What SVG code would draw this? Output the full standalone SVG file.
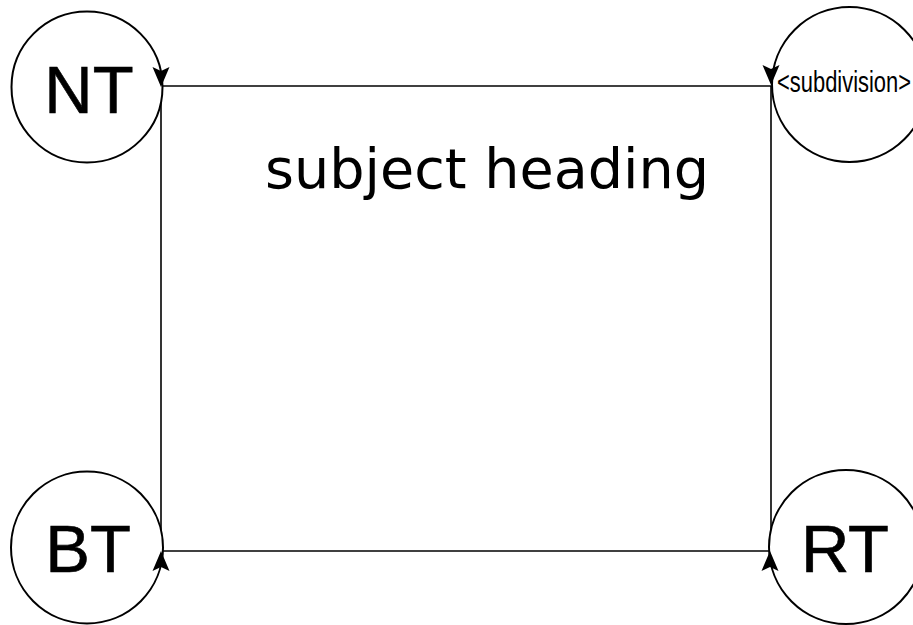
<svg xmlns="http://www.w3.org/2000/svg" xmlns:xlink="http://www.w3.org/1999/xlink" width="913" height="625" viewBox="0 0 913 625">
  <style>
    .node circle { fill: #ffffff; stroke: #000000; stroke-width: 2; }
    .lbl { font-family: "Liberation Sans", Arial, sans-serif; font-size: 67px; fill: #000000; stroke: #000000; stroke-width: 0.6; text-anchor: middle; }
    .conn line { stroke: #000000; stroke-width: 1.6; fill: none; }
    .heading { font-family: "DejaVu Sans", Verdana, sans-serif; font-size: 55px; fill: #000000; }
    .sub { font-family: "Liberation Sans Narrow", "Liberation Sans", Arial, sans-serif; font-size: 29px; fill: #000000; }
  </style>
  <defs>
    <path id="arrow" d="M0,0 L-8.5,-20 L0,-16 L8.5,-20 Z" fill="#000000"/>
  </defs>
  <rect x="0" y="0" width="913" height="625" fill="#ffffff"/>
  <g id="connectors" class="conn">
    <line x1="161" y1="86" x2="771" y2="86"/>
    <line x1="161" y1="86" x2="161" y2="551"/>
    <line x1="161" y1="551" x2="770" y2="551"/>
    <line x1="771" y1="86" x2="771" y2="551"/>
  </g>
  <g id="node-nt" class="node">
    <circle cx="87" cy="87" r="75.5"/>
    <text class="lbl" x="89" y="113">NT</text>
  </g>
  <g id="node-subdivision" class="node">
    <circle cx="849.5" cy="84.5" r="77.5"/>
    <text class="sub" x="777" y="92" textLength="134" lengthAdjust="spacingAndGlyphs">&lt;subdivision&gt;</text>
  </g>
  <g id="node-bt" class="node">
    <circle cx="87" cy="547.5" r="76"/>
    <text class="lbl" x="88" y="572">BT</text>
  </g>
  <g id="node-rt" class="node">
    <circle cx="846" cy="547" r="77"/>
    <text class="lbl" x="845" y="572">RT</text>
  </g>
  <g id="arrowheads">
    <use xlink:href="#arrow" transform="translate(161,87)"/>
    <use xlink:href="#arrow" transform="translate(771,85)"/>
    <use xlink:href="#arrow" transform="translate(161,551) rotate(180)"/>
    <use xlink:href="#arrow" transform="translate(770,551) rotate(180)"/>
  </g>
  <g id="heading">
    <text class="heading" x="265" y="188" textLength="444" lengthAdjust="spacingAndGlyphs">subject heading</text>
  </g>
</svg>
